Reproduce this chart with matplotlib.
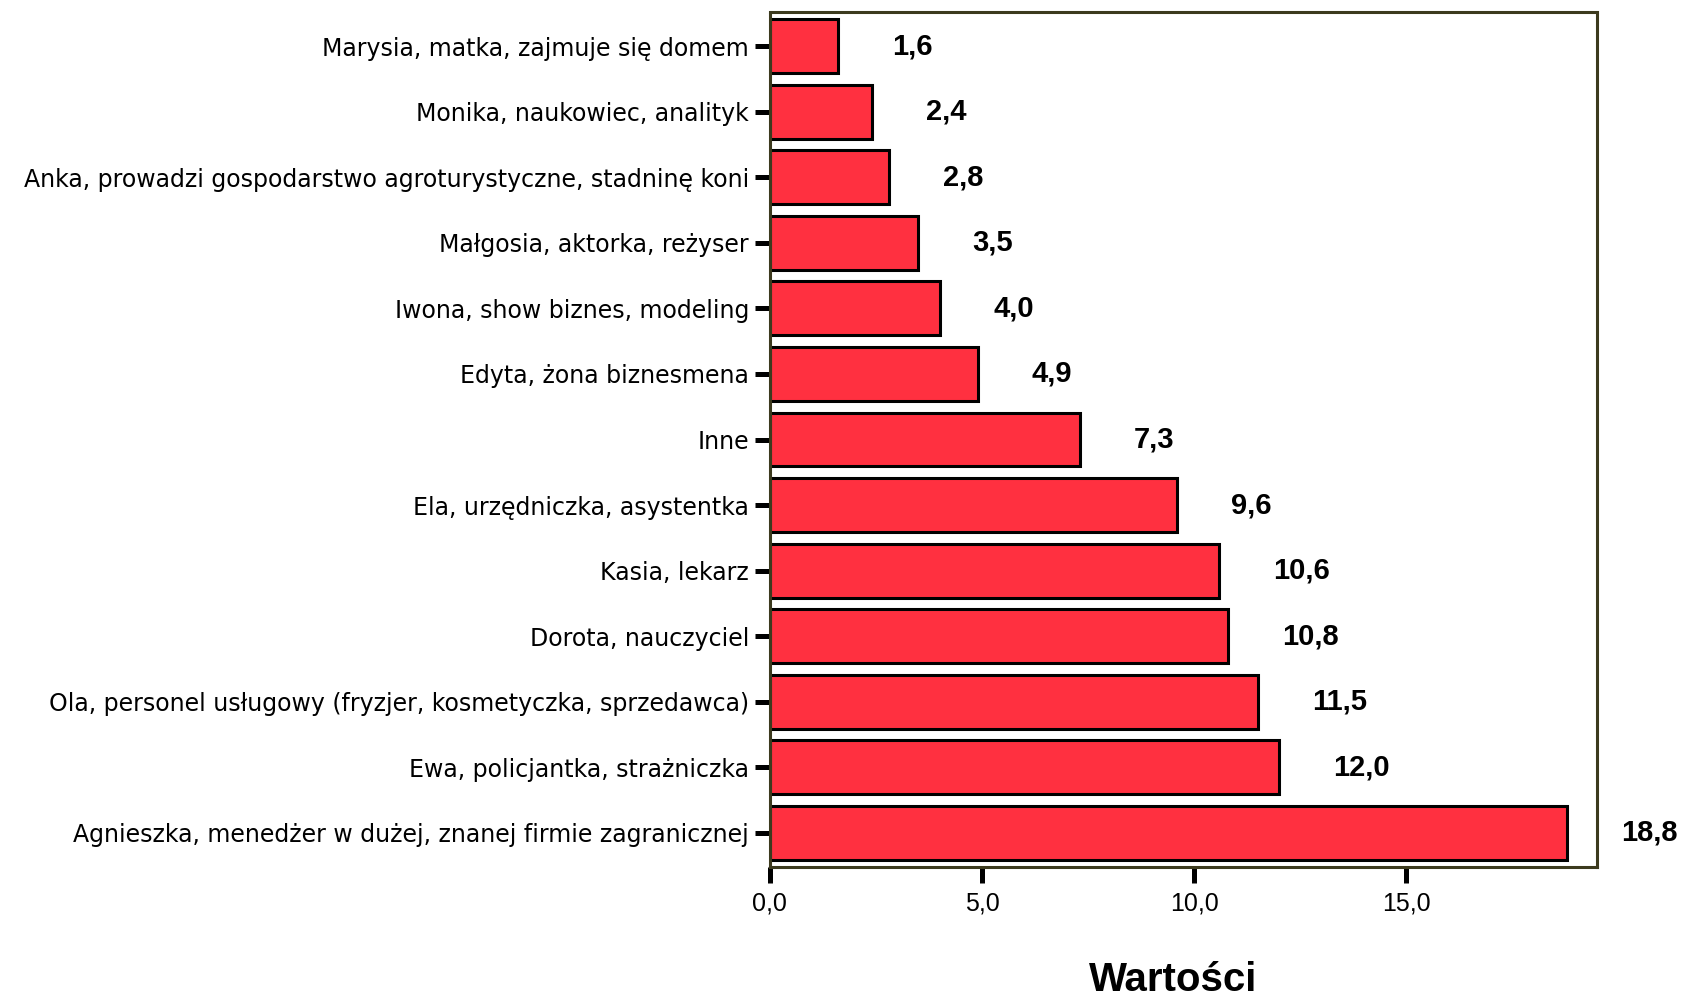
import matplotlib
matplotlib.use('Agg')
import matplotlib.pyplot as plt

# Kategorie (od góry do dołu) i wartości w %
labels = [
    'Marysia, matka, zajmuje się domem',
    'Monika, naukowiec, analityk',
    'Anka, prowadzi gospodarstwo agroturystyczne, stadninę koni',
    'Małgosia, aktorka, reżyser',
    'Iwona, show biznes, modeling',
    'Edyta, żona biznesmena',
    'Inne',
    'Ela, urzędniczka, asystentka',
    'Kasia, lekarz',
    'Dorota, nauczyciel',
    'Ola, personel usługowy (fryzjer, kosmetyczka, sprzedawca)',
    'Ewa, policjantka, strażniczka',
    'Agnieszka, menedżer w dużej, znanej firmie zagranicznej',
]
values = [1.6, 2.4, 2.8, 3.5, 4.0, 4.9, 7.3, 9.6, 10.6, 10.8, 11.5, 12.0, 18.8]
xticks = [0, 5, 10, 15]


def pl(v):
    # polski separator dziesiętny
    return f'{v:.1f}'.replace('.', ',')


plt.rcParams['font.family'] = ['Liberation Sans', 'DejaVu Sans']

fig = plt.figure(figsize=(16.84, 9.99), dpi=100, facecolor='white')
ax = fig.add_axes([0.4572, 0.1321, 0.4911, 0.8559])

y = list(range(len(values)))
ax.barh(y, values, height=0.82, color='#ff3040', edgecolor='black', linewidth=2.2)

# wartości obok słupków
for yi, v in zip(y, values):
    ax.annotate(pl(v), xy=(v, yi), xytext=(54, 0),
                textcoords='offset pixels', ha='left', va='center',
                fontsize=21, fontweight='bold', annotation_clip=False)

ax.set_xlim(0, 19.5)
ax.set_ylim(len(values) - 0.5 + 0.02, -0.52)
ax.set_yticks(y)
ax.set_yticklabels(labels, fontsize=17, family='DejaVu Sans')
ax.set_xticks(xticks)
ax.set_xticklabels([pl(t) for t in xticks], fontsize=18)

ax.tick_params(axis='y', length=11, width=3.6, pad=4)
ax.tick_params(axis='x', length=11.5, width=3.6, pad=6)

for s in ax.spines.values():
    s.set_linestyle((0, (1, 1)))
    s.set_color('#3c3a1e')
    s.set_linewidth(2.2)

ax.set_xlabel('Wartości', fontsize=29, fontweight='bold', va='baseline')
ax.xaxis.set_label_coords(0.487, -0.145)

fig.savefig('out.png', dpi=100, facecolor='white')
plt.close(fig)
